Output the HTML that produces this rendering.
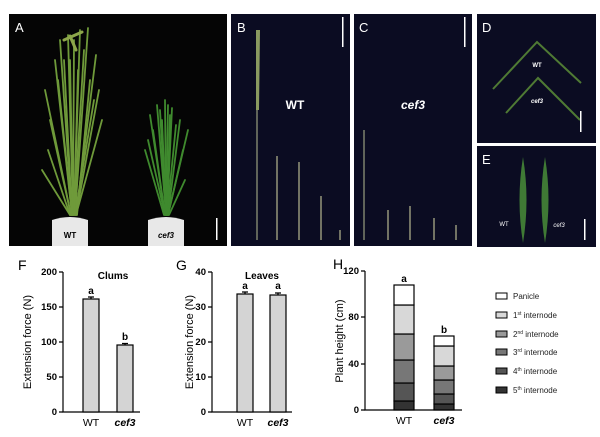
<!DOCTYPE html>
<html><head><meta charset="utf-8"><style>
body{margin:0;background:#fff;}
svg{display:block;font-family:"Liberation Sans",Arial,sans-serif;}
</style></head><body>
<svg width="600" height="437" viewBox="0 0 600 437">
<rect width="600" height="437" fill="#fff"/>
<!-- A -->
<rect x="9" y="14" width="218" height="232" fill="#050505"/>
<g stroke-linecap="round" fill="none">
<g stroke="#6f9a3a" stroke-width="1.8">
<path d="M72 215 L55 60"/><path d="M72 215 L60 40"/><path d="M73 215 L68 35"/><path d="M74 215 L80 30"/><path d="M75 215 L88 28"/><path d="M76 215 L96 55"/><path d="M76 215 L102 120"/><path d="M71 215 L45 90"/><path d="M70 215 L42 170"/><path d="M77 215 L90 80"/><path d="M73 215 L74 40"/><path d="M72 215 L64 60"/>
<path d="M71 215 L50 120"/><path d="M74 215 L84 50"/><path d="M75 215 L94 100"/><path d="M72 215 L58 80"/><path d="M73 215 L70 60"/><path d="M76 215 L99 90"/><path d="M70 215 L48 150"/><path d="M74 215 L78 70"/>
</g>
<g stroke="#8da64a" stroke-width="3"><path d="M64 40 L82 32"/><path d="M70 36 L76 50"/></g>
<g stroke="#3f8a2e" stroke-width="1.8">
<path d="M165 215 L150 115"/><path d="M166 215 L157 105"/><path d="M166 215 L165 100"/><path d="M167 215 L172 108"/><path d="M168 215 L180 120"/><path d="M168 215 L188 130"/><path d="M164 215 L145 150"/><path d="M169 215 L185 180"/><path d="M166 215 L160 110"/><path d="M167 215 L170 115"/>
<path d="M165 215 L153 130"/><path d="M166 215 L162 120"/><path d="M167 215 L176 125"/><path d="M168 215 L183 150"/><path d="M166 215 L168 105"/><path d="M165 215 L148 140"/>
</g>
</g>
<path d="M52 220 Q70 214 88 220 L88 246 L52 246 Z" fill="#e8e8e8"/>
<path d="M148 220 Q166 214 184 220 L184 246 L148 246 Z" fill="#e8e8e8"/>
<text x="70" y="238" font-size="8" font-weight="bold" text-anchor="middle">WT</text>
<text x="166" y="238" font-size="8" font-weight="bold" font-style="italic" text-anchor="middle">cef3</text>
<rect x="216" y="218" width="1.5" height="22" fill="#fff"/>
<text x="15" y="32" font-size="13" fill="#fff">A</text>
<!-- B -->
<rect x="231" y="14" width="119" height="232" fill="#0b0c22"/>
<g stroke="#b8b890" stroke-width="1.2">
<path d="M257 30 L257 240" stroke="#9aa080"/><path d="M277 156 L277 240"/><path d="M299 162 L299 240"/><path d="M321 196 L321 240"/><path d="M340 230 L340 240"/>
</g>
<path d="M256 30 L260 30 L259 110 L256 110 Z" fill="#8a9a60"/>
<text x="295" y="109" font-size="12" font-weight="bold" fill="#fff" text-anchor="middle">WT</text>
<rect x="342" y="17" width="1.5" height="30" fill="#fff"/>
<text x="237" y="32" font-size="13" fill="#fff">B</text>
<!-- C -->
<rect x="354" y="14" width="118" height="232" fill="#0b0c22"/>
<g stroke="#b8b890" stroke-width="1.2">
<path d="M364 130 L364 240" stroke="#9aa080"/><path d="M388 210 L388 240"/><path d="M410 206 L410 240"/><path d="M434 218 L434 240"/><path d="M456 225 L456 240"/>
</g>
<text x="413" y="109" font-size="12" font-weight="bold" font-style="italic" fill="#fff" text-anchor="middle">cef3</text>
<rect x="464" y="17" width="1.5" height="30" fill="#fff"/>
<text x="359" y="32" font-size="13" fill="#fff">C</text>
<!-- D -->
<rect x="477" y="14" width="119" height="129" fill="#0b0c22"/>
<g stroke="#4f7a34" stroke-width="2" fill="none"><path d="M493 89 L537 42 L581 83"/><path d="M506 113 L538 78 L580 120"/></g>
<text x="537" y="67" font-size="6" font-weight="bold" fill="#fff" text-anchor="middle">WT</text>
<text x="537" y="103" font-size="6" font-weight="bold" font-style="italic" fill="#fff" text-anchor="middle">cef3</text>
<rect x="580" y="111" width="1.5" height="21" fill="#fff"/>
<text x="482" y="32" font-size="13" fill="#fff">D</text>
<!-- E -->
<rect x="477" y="146" width="119" height="101" fill="#0b0c22"/>
<path d="M523 157 Q530 200 523 243 Q516 200 523 157 Z" fill="#3f7a35"/>
<path d="M545 157 Q552 200 545 243 Q538 200 545 157 Z" fill="#3f7a35"/>
<text x="504" y="226" font-size="6" fill="#fff" text-anchor="middle">WT</text>
<text x="559" y="227" font-size="6" font-style="italic" fill="#fff" text-anchor="middle">cef3</text>
<rect x="584" y="219" width="1.5" height="21" fill="#fff"/>
<text x="482" y="164" font-size="13" fill="#fff">E</text>

<!-- F -->
<text x="18" y="270" font-size="14">F</text>
<g stroke="#000" stroke-width="1.2" fill="none">
<path d="M63 272 L63 412 L140 412"/>
<path d="M59 272 H63 M59 307 H63 M59 342 H63 M59 377 H63 M59 412 H63"/>
</g>
<g font-size="9.5" font-weight="bold" text-anchor="end">
<text x="57" y="275">200</text><text x="57" y="310">150</text><text x="57" y="345">100</text><text x="57" y="380">50</text><text x="57" y="415">0</text></g>
<rect x="83" y="299" width="16" height="113" fill="#d4d4d4" stroke="#000" stroke-width="1.2"/>
<rect x="117" y="345" width="16" height="67" fill="#d4d4d4" stroke="#000" stroke-width="1.2"/>
<path d="M91 299 V297 M88 297 H94 M125 345 V343.5 M122 343.5 H128" stroke="#000" stroke-width="1.3"/>
<text x="91" y="294" font-size="10" font-weight="bold" text-anchor="middle">a</text>
<text x="125" y="340" font-size="10" font-weight="bold" text-anchor="middle">b</text>
<text x="113" y="279" font-size="10" font-weight="bold" text-anchor="middle">Clums</text>
<text x="91" y="426" font-size="10.5" text-anchor="middle">WT</text>
<text x="125" y="426" font-size="10.5" font-weight="bold" font-style="italic" text-anchor="middle">cef3</text>
<text transform="translate(31 342) rotate(-90)" font-size="11" text-anchor="middle">Extension force (N)</text>

<!-- G -->
<text x="176" y="270" font-size="14">G</text>
<g stroke="#000" stroke-width="1.2" fill="none">
<path d="M212 272 L212 412 L292 412"/>
<path d="M208 272 H212 M208 307 H212 M208 342 H212 M208 377 H212 M208 412 H212"/>
</g>
<g font-size="9.5" font-weight="bold" text-anchor="end">
<text x="206" y="275">40</text><text x="206" y="310">30</text><text x="206" y="345">20</text><text x="206" y="380">10</text><text x="206" y="415">0</text></g>
<rect x="237" y="294" width="16" height="118" fill="#d4d4d4" stroke="#000" stroke-width="1.2"/>
<rect x="270" y="295" width="16" height="117" fill="#d4d4d4" stroke="#000" stroke-width="1.2"/>
<path d="M245 294 V292 M242 292 H248 M278 295 V293 M275 293 H281" stroke="#000" stroke-width="1.3"/>
<text x="245" y="289" font-size="10" font-weight="bold" text-anchor="middle">a</text>
<text x="278" y="289" font-size="10" font-weight="bold" text-anchor="middle">a</text>
<text x="262" y="279" font-size="10" font-weight="bold" text-anchor="middle">Leaves</text>
<text x="245" y="426" font-size="10.5" text-anchor="middle">WT</text>
<text x="278" y="426" font-size="10.5" font-weight="bold" font-style="italic" text-anchor="middle">cef3</text>
<text transform="translate(193 342) rotate(-90)" font-size="11" text-anchor="middle">Extension force (N)</text>

<!-- H -->
<text x="333" y="269" font-size="14">H</text>
<g stroke="#000" stroke-width="1.2" fill="none">
<path d="M365 271 L365 410 L462 410"/>
<path d="M361 271 H365 M361 317 H365 M361 364 H365 M361 410 H365"/>
</g>
<g font-size="9.5" font-weight="bold" text-anchor="end">
<text x="359" y="274">120</text><text x="359" y="320">80</text><text x="359" y="367">40</text><text x="359" y="413">0</text></g>
<g stroke="#000" stroke-width="1.2">
<rect x="394" y="401" width="20" height="9" fill="#333"/>
<rect x="394" y="383" width="20" height="18" fill="#555"/>
<rect x="394" y="360" width="20" height="23" fill="#777"/>
<rect x="394" y="334" width="20" height="26" fill="#9a9a9a"/>
<rect x="394" y="305" width="20" height="29" fill="#d8d8d8"/>
<rect x="394" y="285" width="20" height="20" fill="#fff"/>
<rect x="434" y="404" width="20" height="6" fill="#333"/>
<rect x="434" y="394" width="20" height="10" fill="#555"/>
<rect x="434" y="380" width="20" height="14" fill="#777"/>
<rect x="434" y="366" width="20" height="14" fill="#9a9a9a"/>
<rect x="434" y="346" width="20" height="20" fill="#d8d8d8"/>
<rect x="434" y="336" width="20" height="10" fill="#fff"/>
</g>
<text x="404" y="282" font-size="10" font-weight="bold" text-anchor="middle">a</text>
<text x="444" y="333" font-size="10" font-weight="bold" text-anchor="middle">b</text>
<text x="404" y="424" font-size="10.5" text-anchor="middle">WT</text>
<text x="444" y="424" font-size="10.5" font-weight="bold" font-style="italic" text-anchor="middle">cef3</text>
<text transform="translate(343 341) rotate(-90)" font-size="11" text-anchor="middle">Plant height (cm)</text>
<g stroke="#000" stroke-width="1">
<rect x="496" y="293" width="11" height="6" fill="#fff"/>
<rect x="496" y="312" width="11" height="6" fill="#d8d8d8"/>
<rect x="496" y="331" width="11" height="6" fill="#9a9a9a"/>
<rect x="496" y="349" width="11" height="6" fill="#777"/>
<rect x="496" y="368" width="11" height="6" fill="#555"/>
<rect x="496" y="387" width="11" height="6" fill="#333"/>
</g>
<g font-size="8" fill="#222">
<text x="513" y="299">Panicle</text>
<text x="513" y="318">1<tspan font-size="5" dy="-3">st</tspan><tspan dy="3"> internode</tspan></text>
<text x="513" y="337">2<tspan font-size="5" dy="-3">nd</tspan><tspan dy="3"> internode</tspan></text>
<text x="513" y="355">3<tspan font-size="5" dy="-3">rd</tspan><tspan dy="3"> internode</tspan></text>
<text x="513" y="374">4<tspan font-size="5" dy="-3">th</tspan><tspan dy="3"> internode</tspan></text>
<text x="513" y="393">5<tspan font-size="5" dy="-3">th</tspan><tspan dy="3"> internode</tspan></text>
</g>
</svg>
</body></html>
